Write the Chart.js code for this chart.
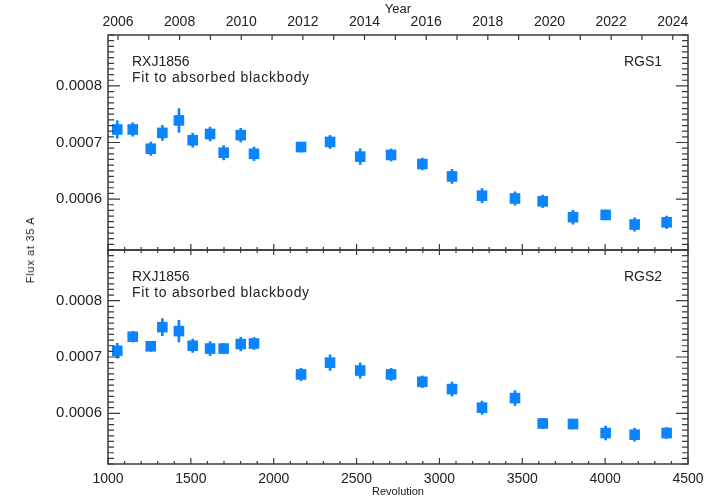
<!DOCTYPE html>
<html>
<head>
<meta charset="utf-8">
<script src="https://cdn.jsdelivr.net/npm/chart.js@4/dist/chart.umd.min.js"></script>
<style>
  body { margin: 0; background: #fff; }
  #wrap { position: relative; width: 720px; height: 501px; overflow: hidden; }
  .panel { position: absolute; left: 0; width: 720px; }
  #ylabel {
    position: absolute; left: 30px; top: 250px;
    transform: translate(-50%, -50%) rotate(-90deg);
    font: 11px "Liberation Sans", Arial, sans-serif; letter-spacing: 0.7px;
    color: #222; white-space: nowrap;
  }
</style>
</head>
<body>
<div id="wrap">
  <div class="panel" style="top:0;height:260px"><canvas id="rgs1" width="720" height="260"></canvas></div>
  <div class="panel" style="top:240px;height:261px"><canvas id="rgs2" width="720" height="261"></canvas></div>
  <div id="ylabel">Flux at 35 A</div>
</div>
<script>
// data
var revolutions = [1056, 1149, 1258, 1328, 1428, 1511, 1616, 1698, 1801, 1881, 2165, 2340,
                   2522, 2708, 2897, 3076, 3257, 3456, 3623, 3806, 4003, 4178, 4371];

var rgs1Flux = [0.000723, 0.000723, 0.000689, 0.000717, 0.000739, 0.000704, 0.000715, 0.000682,
                0.000713, 0.000680, 0.000692, 0.000701, 0.000675, 0.000678, 0.000662, 0.000640,
                0.000606, 0.000601, 0.000596, 0.000568, 0.000572, 0.000555, 0.000559];
var rgs1Err = [0.0000156, 0.0000118, 0.0000118, 0.0000133, 0.0000210, 0.0000124, 0.0000124, 0.0000127,
               0.0000120, 0.0000120, 0.0000088, 0.0000115, 0.0000139, 0.0000106, 0.0000103, 0.0000124,
               0.0000127, 0.0000118, 0.0000110, 0.0000124, 0.0000088, 0.0000118, 0.0000110];

var rgs2Flux = [0.000711, 0.000736, 0.000719, 0.000753, 0.000746, 0.000720, 0.000715, 0.000715,
                0.000723, 0.000724, 0.000669, 0.000690, 0.000676, 0.000669, 0.000656, 0.000643,
                0.000610, 0.000627, 0.000582, 0.000581, 0.000565, 0.000562, 0.000565];
var rgs2Err = [0.0000133, 0.0000095, 0.0000089, 0.0000151, 0.0000192, 0.0000118, 0.0000124, 0.0000089,
               0.0000121, 0.0000107, 0.0000110, 0.0000139, 0.0000136, 0.0000107, 0.0000104, 0.0000124,
               0.0000118, 0.0000133, 0.0000089, 0.0000089, 0.0000124, 0.0000115, 0.0000098];

// tick labels
var revTicks = [1000, 1500, 2000, 2500, 3000, 3500, 4000, 4500];
var yearTicks = [2006, 2008, 2010, 2012, 2014, 2016, 2018, 2020, 2022, 2024];
var fluxTicks = [0.0006, 0.0007, 0.0008];

// axis ranges
var revMin = 1000, revMax = 4500;
var yearMin = 2005.677, yearMax = 2024.495;
var fluxMin = 0.00051, fluxMax = 0.00089;

var markColor = '#0a84ff';
var axisColor = '#3a3a3a';
var textColor = '#222';

Chart.defaults.font.family = '"Liberation Sans", Arial, sans-serif';
Chart.defaults.color = textColor;

// no extra room for edge labels, the layout is fixed by hand
function noPad(s) {
  s.paddingTop = 0; s.paddingBottom = 0; s.paddingLeft = 0; s.paddingRight = 0;
}

// IDL style frame with inward ticks
var framePlugin = {
  id: 'frame',
  afterDraw: function(chart, args, opts) {
    var ctx = chart.ctx, a = chart.chartArea;
    var xs = chart.scales.x, ys = chart.scales.y;
    ctx.save();
    ctx.strokeStyle = axisColor;
    ctx.lineWidth = 1.5;
    ctx.strokeRect(a.left, a.top, a.right - a.left, a.bottom - a.top);
    ctx.lineWidth = 1.2;
    ctx.beginPath();
    for (var k = 51; k <= 89; k++) {
      var py = ys.getPixelForValue(k * 1e-5);
      var len = (k % 10 === 0) ? 12 : 6;
      ctx.moveTo(a.left, py); ctx.lineTo(a.left + len, py);
      ctx.moveTo(a.right, py); ctx.lineTo(a.right - len, py);
    }
    for (var r = revMin; r <= revMax; r += 100) {
      var px = xs.getPixelForValue(r);
      var major = r % 500 === 0;
      if (opts.revBottom) {
        var lb = major ? 6 : 3;
        ctx.moveTo(px, a.bottom); ctx.lineTo(px, a.bottom - lb);
      }
      if (opts.revTop) {
        var lt = major ? 5 : 3;
        ctx.moveTo(px, a.top); ctx.lineTo(px, a.top + lt);
      }
    }
    if (opts.yearTop) {
      var ts = chart.scales.xTop;
      for (var yr = 2006; yr <= 2024; yr++) {
        var pxy = ts.getPixelForValue(yr);
        ctx.moveTo(pxy, a.top); ctx.lineTo(pxy, a.top + 5);
      }
    }
    ctx.stroke();

    // panel annotations
    ctx.fillStyle = textColor;
    ctx.font = '14px "Liberation Sans", Arial, sans-serif';
    ctx.textBaseline = 'middle';
    ctx.textAlign = 'left';
    ctx.fillText('RXJ1856', a.left + 24, a.top + 27.5);
    ctx.letterSpacing = '0.7px';
    ctx.fillText('Fit to absorbed blackbody', a.left + 24, a.top + 43.5);
    ctx.letterSpacing = '0px';
    ctx.textAlign = 'right';
    ctx.fillText(opts.name, a.right - 26, a.top + 27.5);
    ctx.restore();
  }
};

function errorBars(flux, err) {
  var out = [];
  for (var i = 0; i < revolutions.length; i++) {
    out.push({ x: revolutions[i], y: [flux[i] - err[i], flux[i] + err[i]] });
  }
  return out;
}

function points(flux) {
  var out = [];
  for (var i = 0; i < revolutions.length; i++) {
    out.push({ x: revolutions[i], y: flux[i] });
  }
  return out;
}

function fluxAxis() {
  return {
    type: 'linear', position: 'left', min: fluxMin, max: fluxMax,
    grid: { display: false, drawTicks: false },
    border: { display: false },
    afterBuildTicks: function(s) { s.ticks = fluxTicks.map(function(v) { return { value: v }; }); },
    afterFit: function(s) { s.width = 108; noPad(s); },
    ticks: {
      padding: 6, font: { size: 15 }, color: textColor,
      callback: function(v) { return v.toFixed(4); }
    }
  };
}

function makeChart(id, flux, err, top) {
  var scales = {
    y: fluxAxis()
  };
  var plugOpts;
  if (top) {
    scales.x = { type: 'linear', min: revMin, max: revMax, offset: false, display: false, grid: { offset: false },
                 afterFit: noPad };
    scales.xTop = {
      type: 'linear', position: 'top', min: yearMin, max: yearMax, offset: false,
      grid: { display: false, drawTicks: false },
      border: { display: false },
      afterBuildTicks: function(s) { s.ticks = yearTicks.map(function(v) { return { value: v }; }); },
      afterFit: function(s) { s.height = 35; noPad(s); },
      ticks: { padding: 4, font: { size: 14 }, color: textColor, maxRotation: 0, autoSkip: false,
               callback: function(v) { return String(v); } },
      title: { display: true, text: 'Year', font: { size: 13 }, color: textColor, padding: { top: 2, bottom: 0 } }
    };
    plugOpts = { name: 'RGS1', revBottom: true, revTop: false, yearTop: true };
  } else {
    scales.x = {
      type: 'linear', position: 'bottom', min: revMin, max: revMax, offset: false,
      grid: { display: false, drawTicks: false, offset: false },
      border: { display: false },
      afterBuildTicks: function(s) { s.ticks = revTicks.map(function(v) { return { value: v }; }); },
      afterFit: function(s) { s.height = 37; noPad(s); },
      ticks: { padding: 7, font: { size: 14 }, color: textColor, maxRotation: 0, autoSkip: false,
               callback: function(v) { return String(v); } },
      title: { display: true, text: 'Revolution', font: { size: 11 }, color: textColor, padding: { top: 0, bottom: 2 } }
    };
    plugOpts = { name: 'RGS2', revBottom: true, revTop: true, yearTop: false };
  }

  return new Chart(document.getElementById(id), {
    type: 'scatter',
    data: {
      datasets: [
        {
          type: 'scatter',
          data: points(flux),
          pointStyle: 'rect',
          pointRadius: 7.5,
          pointBorderWidth: 0,
          backgroundColor: markColor,
          borderColor: markColor,
          order: 1
        },
        {
          type: 'bar',
          data: errorBars(flux, err),
          backgroundColor: markColor,
          barThickness: 2,
          order: 2
        }
      ]
    },
    options: {
      responsive: false,
      animation: false,
      devicePixelRatio: 1,
      layout: {
        autoPadding: false,
        padding: top ? { left: 0, right: 32, top: 0, bottom: 10 } : { left: 0, right: 32, top: 10, bottom: 0 }
      },
      plugins: { legend: { display: false }, tooltip: { enabled: false }, frame: plugOpts },
      scales: scales
    },
    plugins: [framePlugin]
  });
}

makeChart('rgs1', rgs1Flux, rgs1Err, true);
makeChart('rgs2', rgs2Flux, rgs2Err, false);
</script>
</body>
</html>
